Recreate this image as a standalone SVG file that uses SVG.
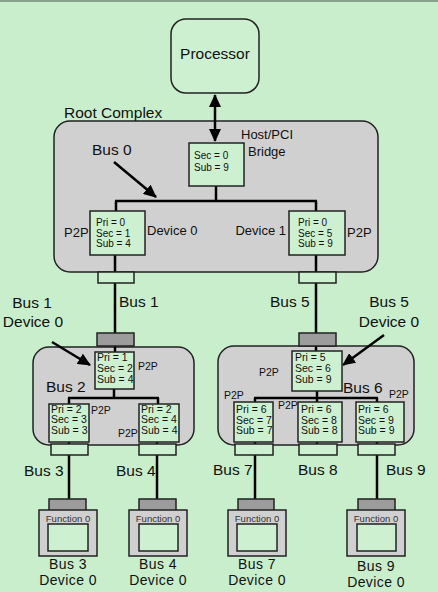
<svg xmlns="http://www.w3.org/2000/svg" width="438" height="592" viewBox="0 0 438 592">
<style>
text{font-family:"Liberation Sans",Arial,sans-serif;fill:#111}
.big{font-size:15.5px}
.dev{font-size:14px;letter-spacing:0.4px}
.lbl{font-size:13px}
.sm{font-size:10px}
.md{font-size:10.5px}
.fn{font-size:9.5px;fill:#333}
.box{fill:#cdf0d0;stroke:#222;stroke-width:1.5}
.cplx{fill:#d0d0d0;stroke:#222;stroke-width:1.5}
.gray{fill:#9c9c9c;stroke:#222;stroke-width:1.5}
.wire{fill:none;stroke:#000;stroke-width:2.5}
.arr{fill:none;stroke:#000;stroke-width:2.5}
</style>
<defs>
<marker id="ah" markerUnits="userSpaceOnUse" markerWidth="14" markerHeight="12" refX="12" refY="6" orient="auto-start-reverse">
<path d="M0,0 L13,6 L0,12 Z" fill="#000"/>
</marker>
</defs>
<rect x="0" y="0" width="438" height="592" fill="#c8eecc"/>
<rect x="0" y="0" width="438" height="2" fill="#8aa08e"/>

<g id="root-complex">
<rect x="54" y="121" width="324" height="151" rx="16" class="cplx"/>
<text x="64" y="118" class="big">Root Complex</text>
<text x="92" y="155" class="big">Bus 0</text>
</g>
<g id="switch-left">
<rect x="33" y="347" width="161" height="98" rx="16" class="cplx"/>
<text x="46" y="392" class="big">Bus 2</text>
</g>
<g id="switch-right">
<rect x="218" y="346" width="196" height="99" rx="16" class="cplx"/>
<text x="343" y="393" class="big">Bus 6</text>
</g>

<g id="connectors">
<line x1="215" y1="95" x2="215" y2="141" class="arr" marker-start="url(#ah)" marker-end="url(#ah)"/>
<line x1="114" y1="162" x2="156" y2="197" class="arr" marker-end="url(#ah)"/>
<line x1="52" y1="342" x2="90" y2="365" class="arr" marker-end="url(#ah)"/>
<line x1="384" y1="335" x2="343" y2="365" class="arr" marker-end="url(#ah)"/>
<path d="M216,186 V201 M115,201 H317 M116,201 V211 M316,201 V211" class="wire"/>
<path d="M115,255 V333 M316,255 V333" class="wire"/>
<path d="M115,346 V352 M114,389 V398 M68,398 H159 M69,398 V404 M158,398 V404" class="wire"/>
<path d="M69,442 V499 M157,442 V499" class="wire"/>
<path d="M316,346 V351 M317,391 V398 M254,398 H378 M255,398 V402 M317,398 V402 M377,398 V402" class="wire"/>
<path d="M255,442 V499 M317,442 V455 M377,442 V499" class="wire"/>
<rect x="98" y="272" width="36" height="11" class="box"/>
<rect x="299" y="272" width="37" height="11" class="box"/>
<rect x="97" y="333" width="37" height="13" class="gray"/>
<rect x="299" y="333" width="37" height="13" class="gray"/>
<text x="119" y="307" class="big">Bus 1</text>
<text x="270" y="307" class="big">Bus 5</text>
<text x="24" y="476" class="big">Bus 3</text>
<text x="116" y="476" class="big">Bus 4</text>
<text x="213" y="475" class="big">Bus 7</text>
<text x="298" y="475" class="big">Bus 8</text>
<text x="386" y="475" class="big">Bus 9</text>
</g>

<g id="processor">
<rect x="171" y="19" width="88" height="74" rx="15" class="box"/>
<text x="215" y="59" class="big" text-anchor="middle">Processor</text>
</g>

<g id="host-bridge">
<rect x="189" y="143" width="55" height="43" class="box"/>
<text x="194" y="159" class="sm">Sec = 0</text>
<text x="194" y="171" class="sm">Sub = 9</text>
<text x="241" y="139" class="lbl">Host/PCI</text>
<text x="248" y="156" class="lbl">Bridge</text>
</g>

<g id="rc-device0">
<rect x="90" y="211" width="55" height="44" class="box"/>
<text x="96" y="226" class="sm">Pri = 0</text>
<text x="96" y="236.5" class="sm">Sec = 1</text>
<text x="96" y="247" class="sm">Sub = 4</text>
<text x="64" y="237" class="lbl">P2P</text>
<text x="147" y="235" class="lbl">Device 0</text>
</g>

<g id="rc-device1">
<rect x="289" y="211" width="56" height="44" class="box"/>
<text x="298" y="226" class="sm">Pri = 0</text>
<text x="298" y="236.5" class="sm">Sec = 5</text>
<text x="298" y="247" class="sm">Sub = 9</text>
<text x="286" y="235" class="lbl" text-anchor="end">Device 1</text>
<text x="347" y="237" class="lbl">P2P</text>
</g>

<g id="bus1-label">
<text x="32" y="308" class="big" text-anchor="middle">Bus 1</text>
<text x="33" y="327" class="big" text-anchor="middle">Device 0</text>
</g>
<g id="bus5-label">
<text x="389" y="307" class="big" text-anchor="middle">Bus 5</text>
<text x="389" y="327" class="big" text-anchor="middle">Device 0</text>
</g>

<g id="switch-left-up">
<rect x="95" y="352" width="39" height="37" class="box"/>
<text x="97" y="361" class="md">Pri = 1</text>
<text x="97" y="372" class="md">Sec = 2</text>
<text x="97" y="382.5" class="md">Sub = 4</text>
<text x="138" y="370" class="md">P2P</text>
</g>
<g id="switch-left-dev3">
<rect x="49" y="404" width="40" height="38" class="box"/>
<text x="51" y="412.5" class="md">Pri = 2</text>
<text x="51" y="423" class="md">Sec = 3</text>
<text x="51" y="434" class="md">Sub = 3</text>
<text x="91" y="414" class="md">P2P</text>
<rect x="51" y="444" width="37" height="11" class="box"/>
</g>
<g id="switch-left-dev4">
<rect x="139" y="404" width="40" height="38" class="box"/>
<text x="141" y="412.5" class="md">Pri = 2</text>
<text x="141" y="423" class="md">Sec = 4</text>
<text x="141" y="434" class="md">Sub = 4</text>
<text x="118" y="437" class="md">P2P</text>
<rect x="139" y="444" width="37" height="11" class="box"/>
</g>

<g id="switch-right-up">
<rect x="292" y="351" width="50" height="40" class="box"/>
<text x="295" y="361" class="md">Pri = 5</text>
<text x="295" y="372" class="md">Sec = 6</text>
<text x="295" y="382.5" class="md">Sub = 9</text>
<text x="259" y="376" class="md">P2P</text>
</g>
<g id="switch-right-dev7">
<rect x="234" y="402" width="39" height="40" class="box"/>
<text x="236" y="413" class="md">Pri = 6</text>
<text x="236" y="423.5" class="md">Sec = 7</text>
<text x="236" y="434" class="md">Sub = 7</text>
<text x="224" y="399" class="md">P2P</text>
<rect x="235" y="444" width="38" height="11" class="box"/>
</g>
<g id="switch-right-dev8">
<rect x="298" y="402" width="44" height="40" class="box"/>
<text x="301" y="413" class="md">Pri = 6</text>
<text x="301" y="423.5" class="md">Sec = 8</text>
<text x="301" y="434" class="md">Sub = 8</text>
<text x="278" y="409" class="md">P2P</text>
<rect x="299" y="444" width="38" height="11" class="box"/>
</g>
<g id="switch-right-dev9">
<rect x="356" y="402" width="48" height="40" class="box"/>
<text x="358" y="413" class="md">Pri = 6</text>
<text x="358" y="423.5" class="md">Sec = 9</text>
<text x="358" y="434" class="md">Sub = 9</text>
<text x="389" y="398" class="md">P2P</text>
<rect x="358" y="444" width="37" height="11" class="box"/>
</g>

<g id="endpoint-bus3">
<rect x="49" y="499" width="37" height="12" class="gray"/>
<rect x="39" y="510" width="58" height="46" class="cplx"/>
<rect x="48" y="524" width="40" height="27" class="box"/>
<text x="68" y="522" class="fn" text-anchor="middle">Function 0</text>
<text x="68" y="569" class="dev" text-anchor="middle">Bus 3</text>
<text x="68" y="585" class="dev" text-anchor="middle">Device 0</text>
</g>
<g id="endpoint-bus4">
<rect x="139" y="499" width="37" height="12" class="gray"/>
<rect x="129" y="510" width="58" height="46" class="cplx"/>
<rect x="139" y="524" width="39" height="27" class="box"/>
<text x="158" y="522" class="fn" text-anchor="middle">Function 0</text>
<text x="158" y="569" class="dev" text-anchor="middle">Bus 4</text>
<text x="158" y="585" class="dev" text-anchor="middle">Device 0</text>
</g>
<g id="endpoint-bus7">
<rect x="238" y="499" width="36" height="12" class="gray"/>
<rect x="228" y="510" width="58" height="46" class="cplx"/>
<rect x="237" y="524" width="40" height="27" class="box"/>
<text x="257" y="522" class="fn" text-anchor="middle">Function 0</text>
<text x="257" y="569" class="dev" text-anchor="middle">Bus 7</text>
<text x="257" y="585" class="dev" text-anchor="middle">Device 0</text>
</g>
<g id="endpoint-bus9">
<rect x="358" y="499" width="37" height="12" class="gray"/>
<rect x="347" y="510" width="58" height="46" class="cplx"/>
<rect x="357" y="524" width="39" height="27" class="box"/>
<text x="376" y="522" class="fn" text-anchor="middle">Function 0</text>
<text x="376" y="571" class="dev" text-anchor="middle">Bus 9</text>
<text x="376" y="587" class="dev" text-anchor="middle">Device 0</text>
</g>
</svg>
